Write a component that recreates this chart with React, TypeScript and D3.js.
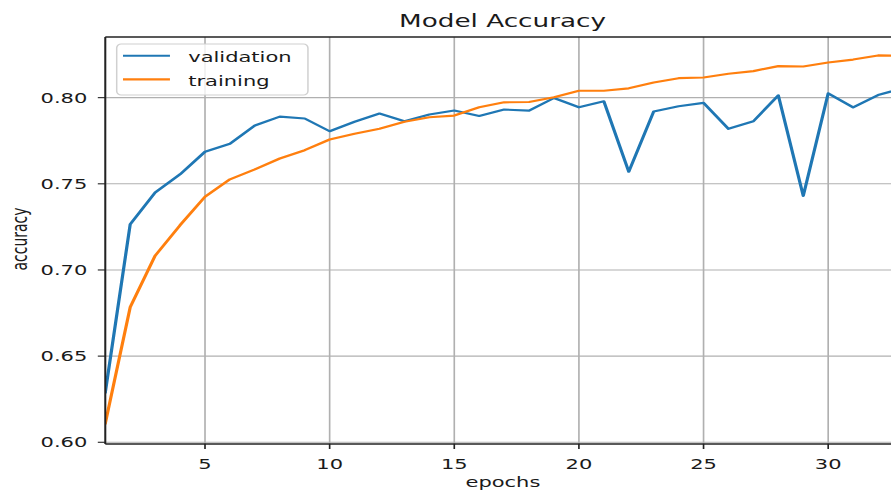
import React from "react";
import * as d3 from "d3";

const epochs = Array.from({ length: 33 }, (_, i) => i + 1);
const validation = [0.629, 0.7266, 0.7449, 0.7555, 0.7686, 0.7732, 0.7838, 0.789, 0.7879, 0.7805, 0.786, 0.7908, 0.7863, 0.7902, 0.7925, 0.7894, 0.7931, 0.7925, 0.7998, 0.7944, 0.7979, 0.757, 0.792, 0.795, 0.797, 0.7819, 0.7863, 0.8013, 0.743, 0.8025, 0.7944, 0.8015, 0.8055];
const training = [0.611, 0.6784, 0.7083, 0.726, 0.7425, 0.7526, 0.7584, 0.7647, 0.7695, 0.7757, 0.779, 0.7819, 0.786, 0.7886, 0.7896, 0.7944, 0.7973, 0.7975, 0.8002, 0.804, 0.804, 0.8054, 0.8088, 0.8113, 0.8117, 0.8139, 0.8154, 0.8183, 0.8181, 0.8204, 0.8221, 0.8245, 0.8243];
const xTicks = [5, 10, 15, 20, 25, 30];
const yTicks = [0.6, 0.65, 0.7, 0.75, 0.8];
const seriesNames = ["validation", "training"];
const colors = ["#1f77b4", "#ff7f0e"];

const SX = 1.5; // horizontal stretch of the reference image
const W = 891, H = 494;
const L = 105.3 / SX, R = 892 / SX, T = 37, B = 444;

export default function App() {
  const x = d3.scaleLinear().domain([1, 32.56]).range([L, R]);
  const y = d3.scaleLinear().domain([0.599, 0.8352]).range([B, T]);
  const line = d3
    .line<number>()
    .x((_, i) => x(epochs[i]))
    .y((d) => y(d));
  const font = "DejaVu Sans, sans-serif";
  const txt = "#1a1a1a";
  return (
    <svg
      width={W}
      height={H}
      style={{ position: "absolute", left: 0, top: 0, background: "#fff" }}
    >
      <defs>
        <clipPath id="plot">
          <rect x={L} y={T} width={R - L} height={B - T} />
        </clipPath>
      </defs>
      <g transform={`scale(${SX},1)`}>
        <rect x={0} y={0} width={W / SX} height={H} fill="#fff" />
        {/* grid */}
        <g stroke="#b0b0b0" strokeWidth={1.1}>
          {[1, ...xTicks].map((t) => (
            <line key={"gx" + t} x1={x(t)} x2={x(t)} y1={T} y2={B} />
          ))}
          {yTicks.map((t) => (
            <line key={"gy" + t} x1={L} x2={R} y1={y(t)} y2={y(t)} />
          ))}
        </g>
        {/* lines */}
        <g clipPath="url(#plot)" fill="none" strokeWidth={2.15} strokeLinejoin="round" strokeLinecap="square">
          <path d={line(validation) || ""} stroke={colors[0]} />
          <path d={line(training) || ""} stroke={colors[1]} />
        </g>
        {/* spines */}
        <g stroke="#222" strokeWidth={1.3} fill="none">
          <line x1={L} x2={L} y1={T} y2={B} />
          <line x1={L} x2={R} y1={B} y2={B} />
          <line x1={L} x2={R} y1={T} y2={T} />
        </g>
        {/* ticks */}
        <g stroke="#222" strokeWidth={1.1}>
          {xTicks.map((t) => (
            <line key={"tx" + t} x1={x(t)} x2={x(t)} y1={B} y2={B + 5} />
          ))}
          {yTicks.map((t) => (
            <line key={"ty" + t} x1={L - 5} x2={L} y1={y(t)} y2={y(t)} />
          ))}
        </g>
        <g fontFamily={font} fontSize={14} fill={txt}>
          {xTicks.map((t) => (
            <text key={"lx" + t} x={x(t)} y={469} textAnchor="middle">
              {t}
            </text>
          ))}
          {yTicks.map((t) => (
            <text key={"ly" + t} x={L - 12} y={y(t) + 5} textAnchor="end">
              {t.toFixed(2)}
            </text>
          ))}
          <text x={335.3} y={487} textAnchor="middle">epochs</text>
          <text transform={`translate(18,239) rotate(-90)`} textAnchor="middle">
            accuracy
          </text>
          <text x={335} y={27} textAnchor="middle" fontSize={17.5}>
            Model Accuracy
          </text>
        </g>
        {/* legend */}
        <g fontFamily={font} fontSize={14} fill={txt}>
          <rect x={77.8} y={44} width={127.5} height={51} rx={3} ry={4} fill="#fff" fillOpacity={0.8} stroke="#d0d0d0" strokeWidth={1} />
          {seriesNames.map((n, i) => (
            <g key={n}>
              <line x1={82} x2={113.3} y1={55.7 + i * 23.6} y2={55.7 + i * 23.6} stroke={colors[i]} strokeWidth={2.15} />
              <text x={125.5} y={62 + i * 23.6}>{n}</text>
            </g>
          ))}
        </g>
      </g>
    </svg>
  );
}
